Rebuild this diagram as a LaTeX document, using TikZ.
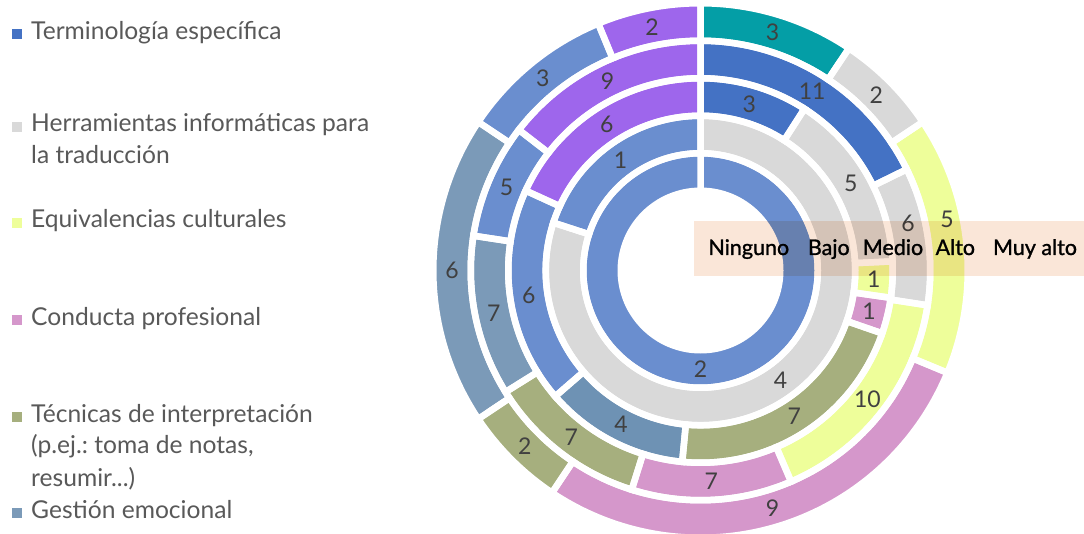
\documentclass[tikz,border=0pt]{standalone}
\usepackage{fontspec}
\setmainfont{Lato}
\newfontfamily\ovfont{Lato}[FakeBold=1.2]
\frenchspacing
\definecolor{cBlue}{HTML}{4472C4}
\definecolor{cGray}{HTML}{D9D9D9}
\definecolor{cYel}{HTML}{EEFE9A}
\definecolor{cPink}{HTML}{D597CB}
\definecolor{cOlive}{HTML}{A6AF7E}
\definecolor{cSteel}{HTML}{7B9AB8}
\definecolor{cSteelD}{HTML}{6E92B4}
\definecolor{cLBlue}{HTML}{6A8ECF}
\definecolor{cPurple}{HTML}{9E66EC}
\definecolor{cTeal}{HTML}{049EA6}
\definecolor{cPeach}{HTML}{FAE6D8}
\definecolor{cLab}{HTML}{404040}
\definecolor{cLeg}{HTML}{595959}
% #1 ring, #2 start (cumulative), #3 end (cumulative), #4 total, #5 colour
\newcommand\ringseg[5]{%
  \pgfmathsetmacro\aS{90-(360/#4)*#2}%
  \pgfmathsetmacro\aE{90-(360/#4)*#3}%
  \pgfmathsetmacro\rI{79.75+37.5*(#1-1)}%
  \pgfmathsetmacro\rO{\rI+37.5}%
  \path[fill=#5, segstyle] (\aS:\rI) arc[start angle=\aS, end angle=\aE, radius=\rI]
    -- (\aE:\rO) arc[start angle=\aE, end angle=\aS, radius=\rO] -- cycle;}
\newcommand\allsegs{%
  \ringseg{1}{0}{2}{2}{cLBlue}
  \ringseg{2}{0}{4}{5}{cGray}
  \ringseg{2}{4}{5}{5}{cLBlue}
  \ringseg{3}{0}{3}{33}{cBlue}
  \ringseg{3}{3}{8}{33}{cGray}
  \ringseg{3}{8}{9}{33}{cYel}
  \ringseg{3}{9}{10}{33}{cPink}
  \ringseg{3}{10}{17}{33}{cOlive}
  \ringseg{3}{17}{21}{33}{cSteelD}
  \ringseg{3}{21}{27}{33}{cLBlue}
  \ringseg{3}{27}{33}{33}{cPurple}
  \ringseg{4}{0}{11}{62}{cBlue}
  \ringseg{4}{11}{17}{62}{cGray}
  \ringseg{4}{17}{27}{62}{cYel}
  \ringseg{4}{27}{34}{62}{cPink}
  \ringseg{4}{34}{41}{62}{cOlive}
  \ringseg{4}{41}{48}{62}{cSteel}
  \ringseg{4}{48}{53}{62}{cLBlue}
  \ringseg{4}{53}{62}{62}{cPurple}
  \ringseg{5}{0}{3}{32}{cTeal}
  \ringseg{5}{3}{5}{32}{cGray}
  \ringseg{5}{5}{10}{32}{cYel}
  \ringseg{5}{10}{19}{32}{cPink}
  \ringseg{5}{19}{21}{32}{cOlive}
  \ringseg{5}{21}{27}{32}{cSteel}
  \ringseg{5}{27}{30}{32}{cLBlue}
  \ringseg{5}{30}{32}{32}{cPurple}}
\tikzset{
  lbl/.style={text=cLab, font=\fontsize{23}{26}\selectfont, inner sep=0pt},
  legtext/.style={text=cLeg, font=\fontsize{24.6}{28}\selectfont, anchor=base west, inner sep=0pt},
  legsq/.style={minimum size=10pt, inner sep=0pt, anchor=south west},
  ovtext/.style={text=black, font=\ovfont\fontsize{21.5}{24}\selectfont, anchor=base, inner sep=0pt}
}
\begin{document}
\begin{tikzpicture}[x=1pt,y=1pt]
\fill[white] (0,0) rectangle (1084,533);
\useasboundingbox (0,0) rectangle (1084,533);
% doughnut
\begin{scope}[shift={(700.5,262.5)}]
  \tikzset{segstyle/.style={draw=none}}
  \allsegs
  \tikzset{segstyle/.style={fill=none, draw=white, line width=6.5pt}}
  \allsegs
  % labels: ring centre radius = 98.5 + 37.5*(ring-1)
  \node[lbl] (r1a) at ({90-180}:98.5) {2};
  \node[lbl] (r2a) at ({90-144}:136) {4};
  \node[lbl] (r2b) at ({90-324}:136) {1};
  \node[lbl] (r3a) at ({90-16.36}:173.5) {3};
  \node[lbl] (r3b) at ({90-60}:173.5) {5};
  \node[lbl] (r3c) at ({90-92.73}:173.5) {1};
  \node[lbl] (r3d) at ({90-103.64}:173.5) {1};
  \node[lbl] (r3e) at ({90-147.27}:173.5) {7};
  \node[lbl] (r3f) at ({90-207.27}:173.5) {4};
  \node[lbl] (r3g) at ({90-261.82}:173.5) {6};
  \node[lbl] (r3h) at ({90-327.27}:173.5) {6};
  \node[lbl] (r4a) at ({90-31.94}:211) {11};
  \node[lbl] (r4b) at (207.5,47.5) {6};
  \node[lbl] (r4c) at ({90-127.74}:211) {10};
  \node[lbl] (r4d) at ({90-177.1}:211) {7};
  \node[lbl] (r4e) at ({90-217.74}:211) {7};
  \node[lbl] (r4f) at ({90-258.39}:211) {7};
  \node[lbl] (r4g) at ({90-293.23}:211) {5};
  \node[lbl] (r4h) at ({90-333.87}:211) {9};
  \node[lbl] (r5a) at ({90-16.88}:248.5) {3};
  \node[lbl] (r5b) at ({90-45}:248.5) {2};
  \node[lbl] (r5c) at (246.5,51.5) {5};
  \node[lbl] (r5d) at ({90-163.13}:248.5) {9};
  \node[lbl] (r5e) at ({90-225}:248.5) {2};
  \node[lbl] (r5f) at ({90-270}:248.5) {6};
  \node[lbl] (r5g) at ({90-320.63}:248.5) {3};
  \node[lbl] (r5h) at ({90-348.75}:248.5) {2};
\end{scope}
% overlay box with level names
\begin{scope}[blend mode=multiply]
  \fill[cPeach] (694,257) rectangle (1084,312);
\end{scope}
\node[ovtext] (ov1) at (748.8,278) {Ninguno};
\node[ovtext] (ov2) at (828.8,278) {Bajo};
\node[ovtext] (ov3) at (893,278) {Medio};
\node[ovtext] (ov4) at (955.3,278) {Alto};
\node[ovtext] (ov5) at (1035,278) {Muy alto};
% legend
\node[legsq, fill=cBlue] (sq1) at (12,493.5) {};
\node[legtext] (lg1) at (31,493.5) {Terminología específica};
\node[legsq, fill=cGray] (sq2) at (12,401) {};
\node[legtext] (lg2a) at (31,401) {Herramientas informáticas para};
\node[legtext] (lg2b) at (31,369) {la traducción};
\node[legsq, fill=cYel] (sq3) at (12,305) {};
\node[legtext] (lg3) at (31,305) {Equivalencias culturales};
\node[legsq, fill=cPink] (sq4) at (12,207.5) {};
\node[legtext] (lg4) at (31,207.5) {Conducta profesional};
\node[legsq, fill=cOlive] (sq5) at (12,110.5) {};
\node[legtext] (lg5a) at (31,110.5) {Técnicas de interpretación};
\node[legtext] (lg5b) at (31,79.5) {(p.ej.: toma de notas,};
\node[legtext] (lg5c) at (31,46.5) {resumir...)};
\node[legsq, fill=cSteel] (sq6) at (12,14.5) {};
\node[legtext] (lg6) at (31,14.5) {Gestión emocional};
\end{tikzpicture}
\end{document}
